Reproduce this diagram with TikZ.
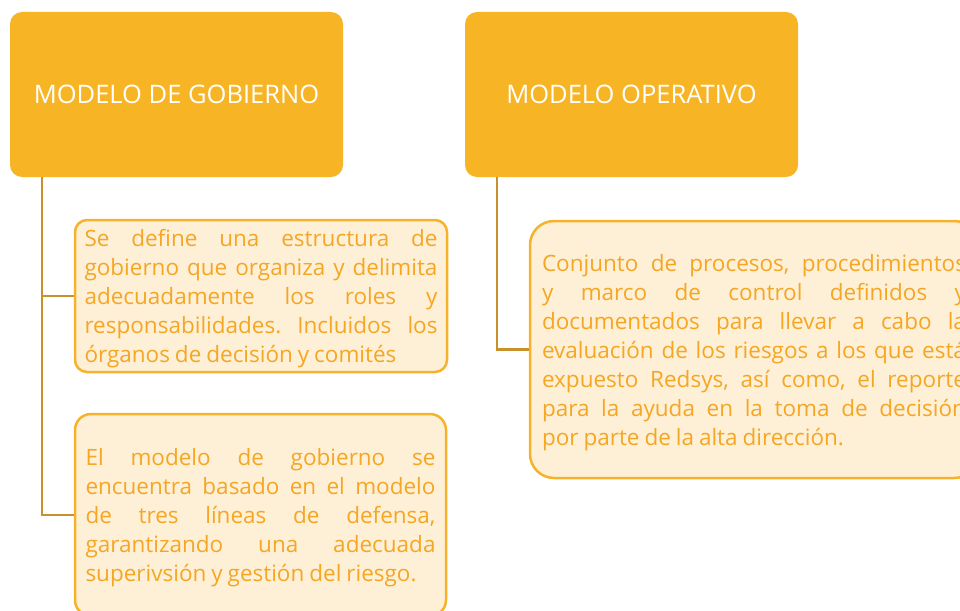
\documentclass[tikz,border=0pt]{standalone}
\usepackage{fontspec}
\setmainfont{Open Sans}
\definecolor{hdr}{HTML}{F7B526}
\definecolor{bodytxt}{HTML}{F5A623}
\definecolor{bodyfill}{HTML}{FEF0D7}
\definecolor{bodyline}{HTML}{F7B22C}
\definecolor{conncol}{HTML}{C8912C}
\newcommand{\mybodyfont}{\fontsize{22.5}{29}\selectfont\frenchspacing\spaceskip=0.22em plus 1em minus 0.12em\relax\hyphenpenalty=10000\relax}
\newcommand{\topstrut}{\rule{0pt}{23pt}}
\tikzset{
  header/.style={fill=hdr, draw=none, rounded corners=12pt, minimum width=333pt, minimum height=165pt,
     text=white, font=\fontsize{25.5}{30}\selectfont, inner sep=0pt},
  infobox/.style={fill=bodyfill, draw=bodyline, line width=2.5pt, text=bodytxt, align=justify,
     font=\mybodyfont, inner sep=0pt},
  conn/.style={draw=conncol, line width=2.5pt},
}
\begin{document}
\begin{tikzpicture}[x=1pt,y=-1pt]
\useasboundingbox (0,0) rectangle (960,610);
\clip (0,0) rectangle (960,610);
\node[header] (hg) at (176.5,94.5) {MODELO DE GOBIERNO};
\node[header] (ho) at (631.5,94.5) {MODELO OPERATIVO};
\node[infobox, rounded corners=12pt, minimum width=372pt, minimum height=152pt, text width=353pt] (b1) at (261,296)
 {\topstrut Se define una estructura de\linebreak gobierno que organiza y delimita\linebreak adecuadamente los roles y\linebreak responsabilidades. Incluidos los\linebreak órganos de decisión y comités};
\node[infobox, rounded corners=16pt, minimum width=371pt, minimum height=202pt, text width=350pt] (b2) at (260.5,515)
 {\topstrut El modelo de gobierno se\linebreak encuentra basado en el modelo\linebreak de tres líneas de defensa,\linebreak garantizando una adecuada\linebreak superivsión y gestión del riesgo.};
\node[infobox, rounded corners=24pt, minimum width=448pt, minimum height=257pt, text width=424pt] (b3) at (754,349.5)
 {\topstrut Conjunto~de~procesos,~procedimientos\linebreak y marco de control definidos y\linebreak documentados para llevar a cabo la\linebreak evaluación de los riesgos a los que está\linebreak expuesto Redsys, así como, el reporte\linebreak para la ayuda en la toma de decisión\linebreak por parte de la alta dirección.};
\coordinate (cg) at ([xshift=32pt]hg.south west);
\coordinate (co) at ([xshift=32pt]ho.south west);
\draw[conn] (cg) |- (b1.west);
\draw[conn] (cg) |- (b2.west);
\draw[conn] (co) |- (b3.west);
\end{tikzpicture}
\end{document}
